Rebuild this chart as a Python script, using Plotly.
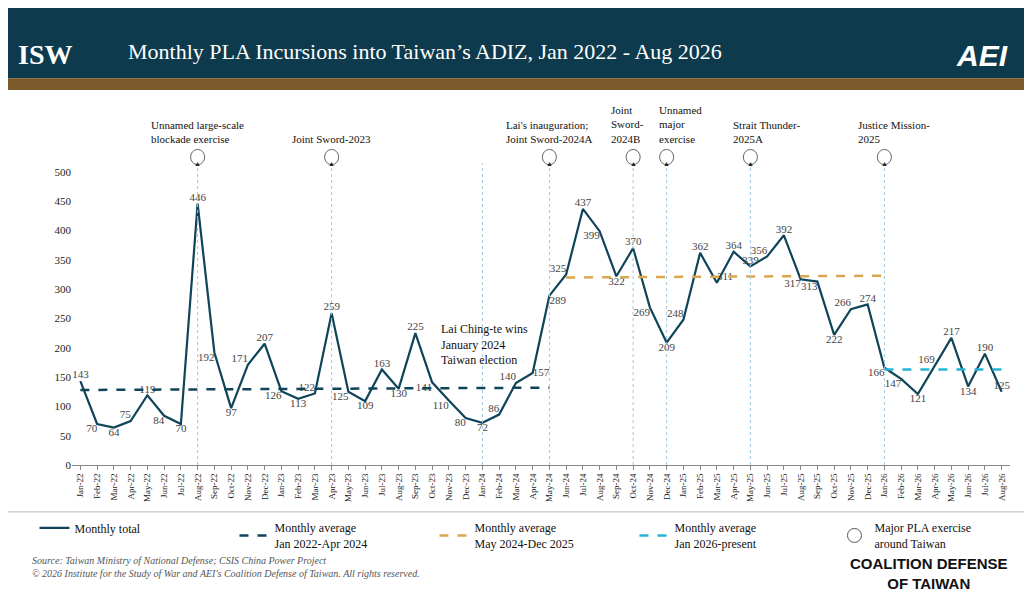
import plotly.graph_objects as go

months = ["Jan","Feb","Mar","Apr","May","Jun","Jul","Aug","Sep","Oct","Nov","Dec"]
labels = [m + "-" + y for y in ["22","23","24","25"] for m in months] + [m + "-26" for m in months[:8]]

incursions = [143,70,64,75,119,84,70,446,192,97,171,207,
              126,113,122,259,125,109,163,130,225,141,110,80,
              72,86,140,157,289,325,437,399,322,370,269,209,
              248,362,311,364,339,356,392,317,313,222,266,274,
              166,147,121,169,217,134,190,125]

avg1_x = ["Jan-22", "May-24"]
avg1_y = [128, 132]
avg2_x = ["Jun-24", "Jan-26"]
avg2_y = [320, 323]
avg3_x = ["Jan-26", "Aug-26"]
avg3_y = [163, 163]

events = ["Aug-22","Apr-23","May-24","Oct-24","Dec-24","May-25","Jan-26"]
event_text = ["Unnamed large-scale<br>blockade exercise", "Joint Sword-2023",
              "Lai's inauguration;<br>Joint Sword-2024A", "Joint<br>Sword-<br>2024B",
              "Unnamed<br>major<br>exercise", "Strait Thunder-<br>2025A", "Justice Mission-<br>2025"]
event_shift = [0, 0, 0, -6, 14, 16, 10]
election = "Jan-24"

navy = "#0f4459"
gold = "#d9a84e"
cyan = "#27b2d8"
font = "Liberation Serif"

# label above local peaks, below otherwise
pos = []
for i, v in enumerate(incursions):
    prev = incursions[i-1] if i > 0 else v - 1
    nxt = incursions[i+1] if i < len(incursions)-1 else v - 1
    if v >= prev and v >= nxt:
        pos.append("top center")
    elif v <= prev and v <= nxt:
        pos.append("bottom center")
    else:
        pos.append("top left" if v > prev else "bottom left")
pos[0] = "top center"
pos[labels.index("Apr-24")] = "middle right"
pos[labels.index("May-24")] = "bottom right"
pos[labels.index("Jun-24")] = "top left"
pos[labels.index("Mar-25")] = "top right"
pos[labels.index("May-25")] = "top center"
pos[labels.index("Aug-26")] = "top center"

fig = go.Figure()
for ev in events + [election]:
    fig.add_shape(type="line", x0=ev, x1=ev, y0=0, y1=1.03, yref="paper",
                  line=dict(color="#9cc8e0", width=1, dash="dot"))
for ev in events:
    idx = labels.index(ev)
    fig.add_shape(type="circle", xref="x", yref="paper", x0=idx-0.42, x1=idx+0.42, y0=1.025, y1=1.077,
                  line=dict(color="#666", width=1), fillcolor="white")
    fig.add_annotation(x=ev, y=1.051, yref="paper", text="▲", showarrow=False,
                       font=dict(size=7, color="#222"))
fig.add_trace(go.Scatter(x=labels, y=incursions, mode="lines+text", text=[str(v) for v in incursions],
                         textposition=pos, textfont=dict(family=font, size=11, color="#444"),
                         line=dict(color=navy, width=2.2), name="Monthly total", cliponaxis=False))
fig.add_trace(go.Scatter(x=avg1_x, y=avg1_y, mode="lines", line=dict(color=navy, width=2.5, dash="dash"),
                         name="Monthly average<br>Jan 2022-Apr 2024"))
fig.add_trace(go.Scatter(x=avg2_x, y=avg2_y, mode="lines", line=dict(color=gold, width=2.5, dash="dash"),
                         name="Monthly average<br>May 2024-Dec 2025"))
fig.add_trace(go.Scatter(x=avg3_x, y=avg3_y, mode="lines", line=dict(color=cyan, width=2.5, dash="dash"),
                         name="Monthly average<br>Jan 2026-present"))
fig.add_trace(go.Scatter(x=[None], y=[None], mode="markers",
                         marker=dict(size=14, color="white", line=dict(color="#555", width=1)),
                         name="Major PLA exercise<br>around Taiwan"))

for ev, t, s in zip(events, event_text, event_shift):
    fig.add_annotation(x=ev, y=1.085, yref="paper", text=t, showarrow=False, yanchor="bottom", align="left",
                       xshift=s, font=dict(family=font, size=11, color="#111"))
fig.add_annotation(x="Dec-23", y=248, text="Lai Ching-te wins<br>January 2024<br>Taiwan election",
                   showarrow=False, xanchor="left", yanchor="top", align="left", xshift=-27,
                   font=dict(family=font, size=12, color="#111"))

# header
fig.add_shape(type="rect", xref="paper", yref="paper", x0=-0.1, x1=1.05, y0=1.32, y1=1.62,
              fillcolor="#0d3a4c", line_width=0, layer="below")
fig.add_shape(type="rect", xref="paper", yref="paper", x0=-0.1, x1=1.05, y0=1.28, y1=1.32,
              fillcolor="#7a5a2a", line_width=0, layer="below")
fig.add_annotation(xref="paper", yref="paper", x=0.058, y=1.46, text="Monthly PLA Incursions into Taiwan’s ADIZ, Jan 2022 - Aug 2026",
                   showarrow=False, xanchor="left", font=dict(family=font, size=22, color="white"))
fig.add_annotation(xref="paper", yref="paper", x=-0.06, y=1.46, text="<b>ISW</b>", showarrow=False,
                   xanchor="left", font=dict(family=font, size=28, color="white"))
fig.add_annotation(xref="paper", yref="paper", x=1.0, y=1.46, text="<b><i>AEI</i></b>", showarrow=False,
                   xanchor="right", font=dict(family="Liberation Sans", size=30, color="white"))
fig.add_annotation(xref="paper", yref="paper", x=-0.045, y=-0.30, align="left",
                   text="<i>Source: Taiwan Ministry of National Defense; CSIS China Power Project<br>© 2026 Institute for the Study of War and AEI's Coalition Defense of Taiwan. All rights reserved.</i>",
                   showarrow=False, xanchor="left", yanchor="top", font=dict(family=font, size=10, color="#555"))
fig.add_annotation(xref="paper", yref="paper", x=1.0, y=-0.3, align="center",
                   text="<b>COALITION DEFENSE<br>OF TAIWAN</b>", showarrow=False, xanchor="right", yanchor="top",
                   font=dict(family="Liberation Sans", size=15, color="#111"))
fig.add_shape(type="line", xref="paper", yref="paper", x0=-0.1, x1=1.05, y0=-0.16, y1=-0.16,
              line=dict(color="#bbb", width=1))

fig.update_layout(
    width=1032, height=612, margin=dict(l=64, r=30, t=164, b=155),
    paper_bgcolor="white", plot_bgcolor="white",
    showlegend=True,
    legend=dict(orientation="h", x=-0.04, y=-0.165, xanchor="left", yanchor="top",
                font=dict(family=font, size=12, color="#111"), entrywidth=155),
    xaxis=dict(type="category", categoryorder="array", categoryarray=labels, tickangle=-90,
               tickfont=dict(family=font, size=9, color="#222"), showline=True, linecolor="#888",
               ticks="outside", ticklen=4, tickcolor="#888", showgrid=False, range=[-0.5, len(labels)-0.5],
               automargin=False),
    yaxis=dict(range=[0, 500], dtick=50, showgrid=False, showline=False, automargin=False,
               tickfont=dict(family=font, size=11, color="#222"), zeroline=False),
)
fig.write_html("out.html")
